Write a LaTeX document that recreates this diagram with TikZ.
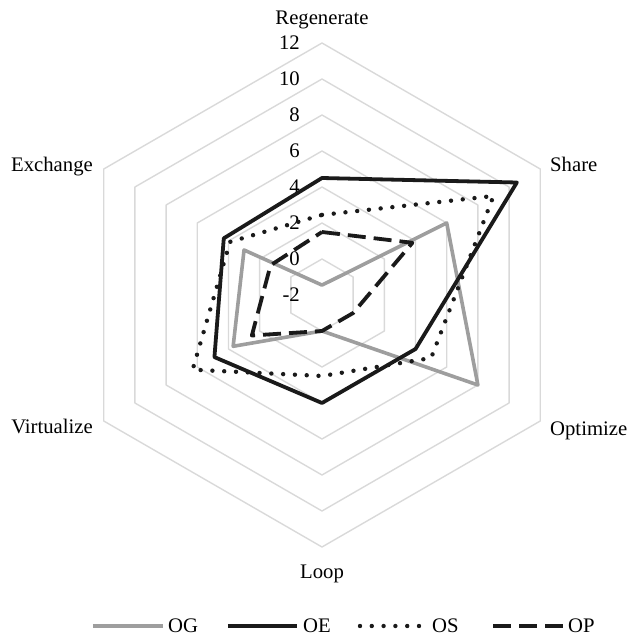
\documentclass[tikz,border=0pt]{standalone}
\usepackage{fontspec}
\setmainfont{Liberation Serif}
\definecolor{gridgray}{RGB}{217,217,217}
\definecolor{oggray}{RGB}{158,158,158}
\definecolor{ink}{RGB}{26,26,26}
\begin{document}
\begin{tikzpicture}[x=1pt, y=1pt, line join=round,
    ring/.style = {draw=gridgray, line width=1.4pt},
    lbl/.style = {inner sep=0pt, font=\fontsize{20.7}{24}\selectfont},
    og/.style = {draw=oggray, line width=3.6pt},
    oe/.style = {draw=ink, line width=3.8pt},
    os/.style = {draw=ink, line width=4.4pt, line cap=round, dash pattern=on 0pt off 11.8pt},
    op/.style = {draw=ink, line width=3.8pt, dash pattern=on 18pt off 8pt}]
    \useasboundingbox (-322,-342) rectangle (307,295);

    \foreach \v in {0,2,...,12}
        \draw[ring] (90:{(\v+2)*18}) -- (30:{(\v+2)*18}) -- (-30:{(\v+2)*18}) -- (-90:{(\v+2)*18}) -- (210:{(\v+2)*18}) -- (150:{(\v+2)*18}) -- cycle;
    \foreach \v [count=\i] in {-2,0,...,12}
        \node[lbl, anchor=east] (tick\i) at (-22,{(\v+2)*18}) {\v};

    \foreach \s/\a/\b/\c/\d/\e/\f in {og/-1.45/6/8/0/3.7/3, oe/4.5/10.5/4/4/4.9/4.3, os/2.45/9/5/2.5/6.3/3.9, op/1.5/3.8/0/0/2.5/1.3}
        \draw[\s] (90:{(\a+2)*18}) -- (30:{(\b+2)*18}) -- (-30:{(\c+2)*18}) -- (-90:{(\d+2)*18}) -- (210:{(\e+2)*18}) -- (150:{(\f+2)*18}) -- cycle;

    \node[lbl, anchor=base] (regen) at (0,270) {Regenerate};
    \node[lbl, anchor=base west] (share) at (228,123.5) {Share};
    \node[lbl, anchor=base west] (optim) at (228,-140) {Optimize};
    \node[lbl, anchor=base] (loop) at (0,-283) {Loop};
    \node[lbl, anchor=base east] (virt) at (-229,-138) {Virtualize};
    \node[lbl, anchor=base east] (exch) at (-229,123) {Exchange};

    \node[lbl, anchor=base west] (legog) at (-154,-337.5) {OG};
    \node[lbl, anchor=base west] (legoe) at (-19,-337.5) {OE};
    \node[lbl, anchor=base west] (legos) at (110,-337.5) {OS};
    \node[lbl, anchor=base west] (legop) at (246,-337.5) {OP};
    \draw[og] (-229,-331) -- (-159,-331);
    \draw[oe] (-94,-331) -- (-25,-331);
    \draw[os] (38,-331) -- (104,-331);
    \draw[op] (171,-331) -- (243,-331);
\end{tikzpicture}
\end{document}
